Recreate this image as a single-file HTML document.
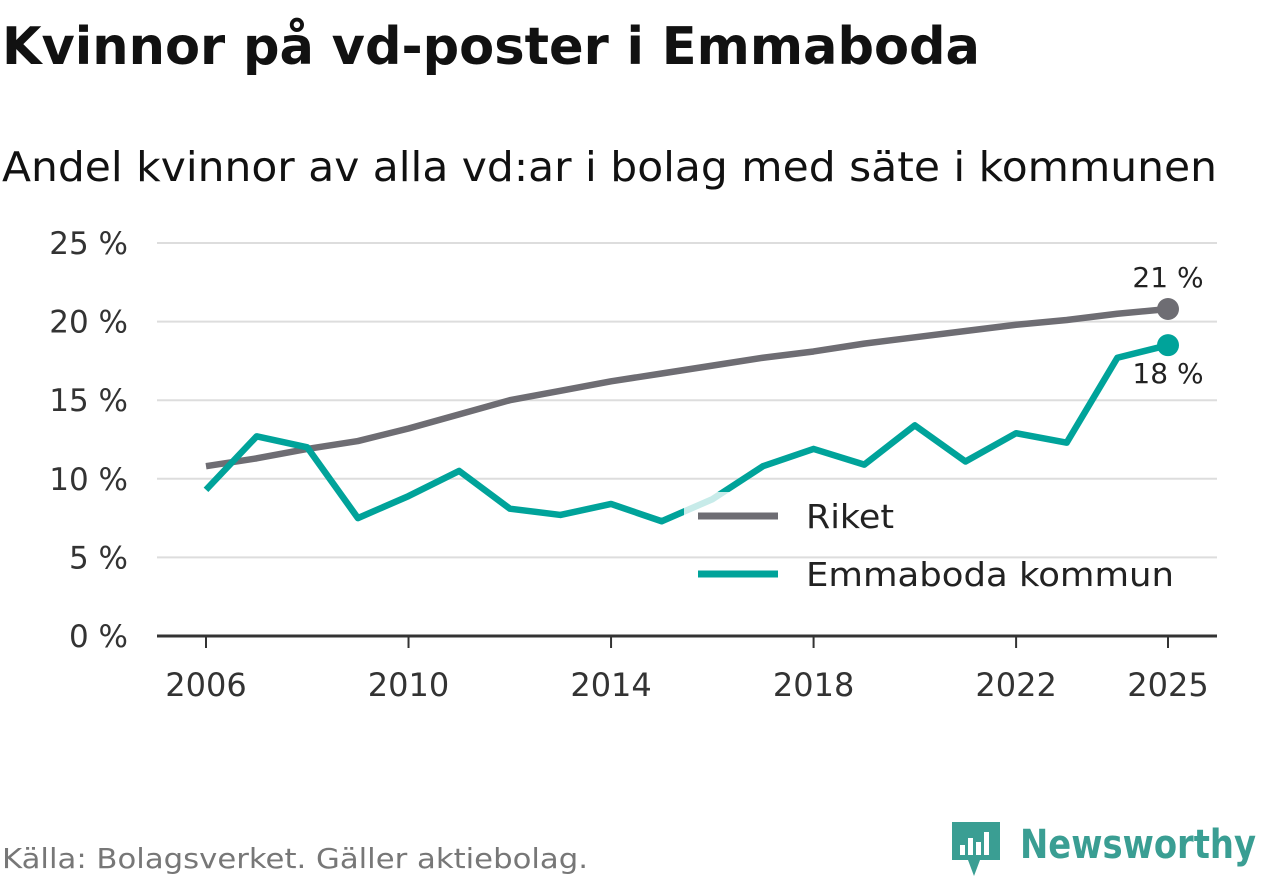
<!DOCTYPE html>
<html><head><meta charset="utf-8"><style>
body{margin:0;background:#fff;font-family:"DejaVu Sans","Liberation Sans",sans-serif;}
#wrap{position:relative;width:1262px;height:879px;overflow:hidden;}
</style></head><body>
<div id="wrap">
<svg id="svg" width="1262" height="879">
<text x="2" y="64" font-size="52" font-weight="bold" fill="#111" textLength="978" lengthAdjust="spacingAndGlyphs">Kvinnor på vd-poster i Emmaboda</text>
<text x="2" y="181" font-size="41" fill="#111" textLength="1215" lengthAdjust="spacingAndGlyphs">Andel kvinnor av alla vd:ar i bolag med säte i kommunen</text>
<g id="grid"></g><g id="lines"></g>
<text x="2" y="868" font-size="28" fill="#777" textLength="586" lengthAdjust="spacingAndGlyphs">Källa: Bolagsverket. Gäller aktiebolag.</text>
<g>
<path d="M952 822 h48 v38 h-20 l-6 16 l-6 -16 h-16 z" fill="#3a9e93"/>
<rect x="960" y="845" width="5" height="10" fill="#fff"/><rect x="968" y="838" width="5" height="17" fill="#fff"/><rect x="976" y="842" width="5" height="13" fill="#fff"/><rect x="984" y="832" width="5" height="23" fill="#fff"/>
<text x="1020" y="858" font-size="40" font-weight="bold" fill="#3a9e93" textLength="236" lengthAdjust="spacingAndGlyphs">Newsworthy</text>
</g>
</svg>
</div>
<script>
const years=[2006,2007,2008,2009,2010,2011,2012,2013,2014,2015,2016,2017,2018,2019,2020,2021,2022,2023,2024,2025];
const riket=[10.8,11.3,11.9,12.4,13.2,14.1,15.0,15.6,16.2,16.7,17.2,17.7,18.1,18.6,19.0,19.4,19.8,20.1,20.5,20.8];
const emmaboda=[9.3,12.7,12.0,7.5,8.9,10.5,8.1,7.7,8.4,7.3,8.7,10.8,11.9,10.9,13.4,11.1,12.9,12.3,17.7,18.5];
const yTicks=[0,5,10,15,20,25];
const xTicks=[2006,2010,2014,2018,2022,2025];
const NS="http://www.w3.org/2000/svg";
const x=v=>206+(v-2006)*(1168-206)/19;
const y=v=>636-v*(636-243)/25;
function mk(t,a,p){const e=document.createElementNS(NS,t);for(const k in a)e.setAttribute(k,a[k]);p.appendChild(e);return e;}
const svg=document.getElementById('svg'),grid=document.getElementById('grid'),lines=document.getElementById('lines');
yTicks.forEach(v=>{
 if(v>0){const l=mk('line',{x1:157,x2:1217,y1:y(v),y2:y(v),stroke:'#ddd','stroke-width':2},grid);
 
 }
 const t=mk('text',{x:128,y:y(v)+11,'font-size':31,fill:'#333','text-anchor':'end'},grid);t.textContent=v+' %';
 
 
});
const ax=mk('line',{x1:157,x2:1217,y1:636,y2:636,stroke:'#333','stroke-width':3},grid);


xTicks.forEach(v=>{
 mk('line',{x1:x(v),x2:x(v),y1:636,y2:648,stroke:'#333','stroke-width':2},grid);
 const t=mk('text',{x:x(v),y:696,'font-size':32,fill:'#333','text-anchor':'middle'},grid);t.textContent=v;
 
 
});
function series(d,c,name){
 const p=mk('polyline',{points:d.map((v,i)=>x(years[i])+','+y(v)).join(' '),fill:'none',stroke:c,'stroke-width':6.5,'stroke-linejoin':'round'},lines);
 
 
 const n=d.length-1;
 const c2=mk('circle',{cx:x(years[n]),cy:y(d[n]),r:11,fill:c},lines);
 
 
}
series(riket,'#6e6d73','riket');
series(emmaboda,'#00a39a','emmaboda');
const l1=mk('text',{x:1168,y:y(riket[19])-22,'font-size':28,fill:'#222','text-anchor':'middle'},lines);l1.textContent=Math.round(riket[19])+' %';


const l2=mk('text',{x:1168,y:y(emmaboda[19])+38,'font-size':28,fill:'#222','text-anchor':'middle'},lines);l2.textContent=Math.floor(emmaboda[19])+' %';


const lg=mk('g',{},svg);


mk('rect',{x:684,y:492,width:508,height:64,fill:'#fff','fill-opacity':0.78},lg);
mk('line',{x1:698,x2:778,y1:516,y2:516,stroke:'#6e6d73','stroke-width':7},lg);
const e1=mk('text',{x:806,y:528,'font-size':33,fill:'#222',textLength:88,lengthAdjust:'spacingAndGlyphs'},lg);e1.textContent='Riket';


mk('line',{x1:698,x2:778,y1:574,y2:574,stroke:'#00a39a','stroke-width':7},lg);
const e2=mk('text',{x:806,y:586,'font-size':33,fill:'#222',textLength:368,lengthAdjust:'spacingAndGlyphs'},lg);e2.textContent='Emmaboda kommun';


</script>
</body></html>
